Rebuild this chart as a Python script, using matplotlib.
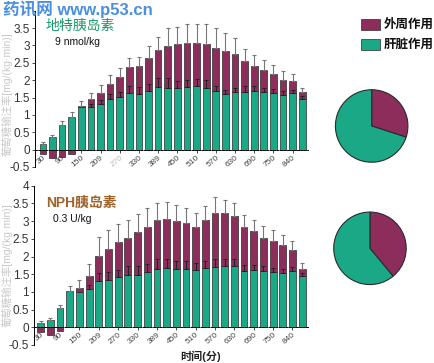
import numpy as np
import matplotlib.pyplot as plt

plt.rcParams['font.family'] = ['Liberation Sans', 'Noto Sans CJK SC', 'DejaVu Sans']

# time labels on the x axis (every second bar)
xlabels_top = ['30', '90', '150', '209', '270', '330', '389', '450', '510',
               '570', '630', '690', '750', '840']
xlabels_bot = ['30', '90', '150', '209', '270', '330', '389', '450', '510',
               '570', '630', '690', '750', '840']

# 地特胰岛素 panel
green_top = [0.15, 0.36, 0.70, 0.95, 1.22, 1.22, 1.30, 1.45, 1.52, 1.62, 1.60, 1.68, 1.80, 1.78,
             1.76, 1.80, 1.82, 1.78, 1.68, 1.60, 1.65, 1.67, 1.69, 1.66, 1.63, 1.58, 1.62, 1.47]
periph_top = [-0.13, -0.25, -0.20, -0.12, 0.05, 0.25, 0.33, 0.45, 0.58, 0.75, 0.82, 0.95, 1.06, 1.19,
              1.28, 1.28, 1.25, 1.26, 1.24, 1.25, 1.11, 0.89, 0.73, 0.62, 0.55, 0.43, 0.37, 0.18]
err_top = [0.07, 0.06, 0.13, 0.13, 0.13, 0.15, 0.23, 0.25, 0.25, 0.26, 0.26, 0.35, 0.39, 0.53,
           0.50, 0.53, 0.56, 0.57, 0.58, 0.52, 0.45, 0.34, 0.31, 0.29, 0.26, 0.24, 0.20, 0.13]
gerr_top = [0, 0, 0, 0, 0, 0.10, 0.12, 0.15, 0.15, 0.20, 0.20, 0.22, 0.25, 0.28,
            0.22, 0.20, 0.20, 0.22, 0.15, 0.12, 0.12, 0.15, 0.15, 0.12, 0.12, 0.10, 0.10, 0.08]

# NPH胰岛素 panel
green_bot = [0.12, 0.22, 0.55, 1.02, 0.99, 1.09, 1.32, 1.34, 1.42, 1.47, 1.47, 1.55, 1.65, 1.68,
             1.64, 1.64, 1.61, 1.67, 1.70, 1.72, 1.72, 1.59, 1.61, 1.59, 1.56, 1.54, 1.59, 1.44]
periph_bot = [-0.14, -0.21, -0.11, 0.0, 0.13, 0.35, 0.69, 0.88, 0.99, 1.06, 1.21, 1.29, 1.38, 1.39,
              1.37, 1.31, 1.23, 1.36, 1.52, 1.50, 1.42, 1.23, 1.11, 0.94, 0.88, 0.78, 0.58, 0.20]
err_bot = [0.07, 0.04, 0.08, 0.16, 0.22, 0.34, 0.54, 0.54, 0.50, 0.51, 0.52, 0.52, 0.49, 0.48,
           0.44, 0.41, 0.40, 0.39, 0.45, 0.37, 0.38, 0.35, 0.32, 0.34, 0.30, 0.28, 0.26, 0.18]
gerr_bot = [0, 0, 0, 0, 0, 0.10, 0.22, 0.21, 0.20, 0.25, 0.25, 0.25, 0.28, 0.26,
            0.24, 0.22, 0.20, 0.20, 0.22, 0.20, 0.20, 0.18, 0.15, 0.14, 0.12, 0.12, 0.12, 0.08]

# pie shares: 外周作用, 肝脏作用
pie_top = [30, 70]
pie_bot = [39, 61]

PURPLE = '#8c2d5c'
GREEN = '#1aa886'
EDGE = '#2b2b2b'

fig = plt.figure(figsize=(4.35, 3.63), dpi=100)


def draw_panel(ax, green, periph, err, gerr, xlabels, xmin, ylabels):
    green = np.array(green)
    periph = np.array(periph)
    x = np.arange(len(green))
    w = 0.7
    ax.bar(x, green, w, color=GREEN, edgecolor=EDGE, linewidth=0.5, zorder=2)
    pb = np.where(periph > 0, green, 0)
    ax.bar(x, periph, w, bottom=pb, color=PURPLE, edgecolor=EDGE, linewidth=0.5, zorder=2)
    top = np.where(periph > 0, green + periph, green)
    ax.errorbar(x, top, yerr=[np.zeros(len(x)), err], fmt='none', ecolor='#777777',
                elinewidth=0.8, capsize=1.6, capthick=0.8, zorder=3)
    gmask = np.array(gerr) > 0
    ax.errorbar(x[gmask], green[gmask], yerr=[np.zeros(gmask.sum()), np.array(gerr)[gmask]],
                fmt='none', ecolor='#222222', elinewidth=0.7, capsize=1.6, capthick=0.7, zorder=3)
    ax.set_xlim(xmin, 27.6)
    ax.set_ylim(-0.5, 4.0)
    ax.set_yticks(np.arange(-0.5, 4.01, 0.5))
    ax.set_yticklabels(ylabels)
    ax.spines['top'].set_visible(False)
    ax.spines['right'].set_visible(False)
    ax.spines['bottom'].set_position(('data', 0))
    ax.spines['bottom'].set_linestyle((0, (2, 1.5)))
    ax.spines['bottom'].set_linewidth(0.7)
    ax.spines['left'].set_linewidth(0.7)
    ax.set_xticks(x[::2])
    ax.set_xticklabels(xlabels, rotation=40, ha='right', rotation_mode='anchor',
                       fontsize=6, color='#444444')
    ax.tick_params(axis='x', length=2, width=0.5, pad=1)
    ax.tick_params(axis='y', length=2, width=0.5, pad=1.5, labelsize=8.5, labelcolor='#333333')


# the "4" of the upper panel is hidden under the watermark in the original
ylab_top = ['-0.5', '0', '0.5', '1', '1.5', '2', '2.5', '3', '3.5', '']
ylab_bot = ['-0.5', '0', '0.5', '1', '1.5', '2', '2.5', '3', '3.5', '4']

ax1 = fig.add_axes([0.080, 0.540, 0.628, 0.4305])
draw_panel(ax1, green_top, periph_top, err_top, gerr_top, xlabels_top, -0.84, ylab_top)
ax1.get_xticklabels()[4].set_color('#bbbbbb')
ax1.text(0.04, 0.90, '地特胰岛素', transform=ax1.transAxes, fontsize=10,
         color='#1a9a6a', va='center')
ax1.text(0.075, 0.80, '9 nmol/kg', transform=ax1.transAxes, fontsize=7.5,
         color='#111111', va='center')

ax2 = fig.add_axes([0.078, 0.0496, 0.630, 0.4388])
draw_panel(ax2, green_bot, periph_bot, err_bot, gerr_bot, xlabels_bot, -0.7, ylab_bot)
ax2.text(0.045, 0.89, 'NPH胰岛素', transform=ax2.transAxes, fontsize=10,
         color='#a0642a', fontweight='bold', va='center')
ax2.text(0.07, 0.79, '0.3 U/kg', transform=ax2.transAxes, fontsize=7.5,
         color='#111111', va='center')

fig.text(0.46, 0.018, '时间(分)', fontsize=8, fontweight='bold', ha='center',
         va='center', color='#222222')

# faint rotated y labels at the left edge
for yc in (0.74, 0.27):
    fig.text(0.017, yc, '葡萄糖输注率[mg/(kg·min)]', rotation=90, fontsize=7.5,
             color='#c8c8c8', ha='center', va='center')

# pies
for rect, vals in (([0.7694, 0.551, 0.170, 0.2039], pie_top),
                   ([0.7655, 0.214, 0.170, 0.2039], pie_bot)):
    pa = fig.add_axes(rect)
    pa.pie(vals, colors=[PURPLE, GREEN], startangle=90, counterclock=False,
           wedgeprops=dict(edgecolor=EDGE, linewidth=0.8))
    pa.set_xlim(-1.02, 1.02)
    pa.set_ylim(-1.02, 1.02)

# legend
for yc, col, lab in ((0.932, PURPLE, '外周作用'), (0.877, GREEN, '肝脏作用')):
    fig.patches.append(plt.Rectangle((0.831, yc - 0.015), 0.042, 0.030, color=col,
                                     ec=EDGE, lw=0.5, transform=fig.transFigure, figure=fig))
    fig.text(0.882, yc, lab, fontsize=9, fontweight='bold', va='center', color='#111111')

# watermark
fig.text(0.008, 1.0, '药讯网 www.p53.cn', fontsize=12, fontweight='bold',
         color='#4a8fe0', va='top', ha='left')

fig.savefig('out.png', dpi=100)
